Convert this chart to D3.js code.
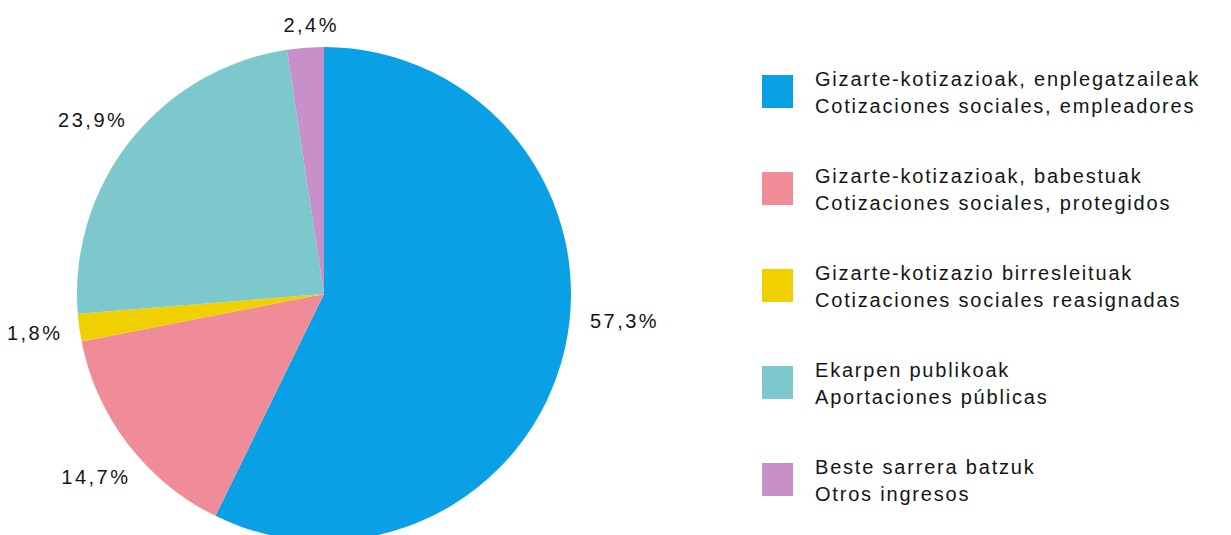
<!DOCTYPE html>
<html><head><meta charset="utf-8">
<script src="https://cdn.jsdelivr.net/npm/d3@7"></script>
<style>
html,body{margin:0;padding:0;background:#fff;}
svg{display:block;}
</style></head>
<body>
<svg id="chart" width="1231" height="535"></svg>
<script>
// ---- data ----
const categoriesEu = ["Gizarte-kotizazioak, enplegatzaileak","Gizarte-kotizazioak, babestuak","Gizarte-kotizazio birresleituak","Ekarpen publikoak","Beste sarrera batzuk"];
const categoriesEs = ["Cotizaciones sociales, empleadores","Cotizaciones sociales, protegidos","Cotizaciones sociales reasignadas","Aportaciones públicas","Otros ingresos"];
const values = [57.3, 14.7, 1.8, 23.9, 2.4];
const valueLabels = ["57,3%","14,7%","1,8%","23,9%","2,4%"];
const colors = ["#0aa0e6","#f08c98","#f0d000","#7cc8cc","#c890c8"];

// ---- layout ----
const svg = d3.select("#chart");
const cx = 324, cy = 294, r = 247;
const labelR = 290;
const labelNudge = [[18,-38],[2,6],[-2,0],[-4,6],[9,20]];
const font = "'Liberation Sans', Arial, sans-serif";

const pie = d3.pie().sort(null).value(d => d)(values);
const arc = d3.arc().innerRadius(0).outerRadius(r);
const labelArc = d3.arc().innerRadius(labelR).outerRadius(labelR);

const g = svg.append("g").attr("transform", `translate(${cx},${cy})`);
g.selectAll("path").data(pie).join("path")
  .attr("d", arc)
  .attr("fill", (d,i) => colors[i]);

g.selectAll("text").data(pie).join("text")
  .attr("transform", (d,i) => {
    const c = labelArc.centroid(d);
    return `translate(${c[0]+labelNudge[i][0]},${c[1]+labelNudge[i][1]})`;
  })
  .attr("text-anchor","middle")
  .attr("dy","0.35em")
  .attr("font-family", font)
  .attr("font-size", 20)
  .attr("letter-spacing", 2.5)
  .attr("fill","#151515")
  .text((d,i) => valueLabels[i]);

// ---- legend ----
const legend = svg.append("g").attr("transform","translate(762,75)");
const item = legend.selectAll("g").data(categoriesEu).join("g")
  .attr("transform", (d,i) => `translate(0,${i*97})`);
item.append("rect").attr("width",31).attr("height",33).attr("fill",(d,i)=>colors[i]);
item.append("text").attr("x",53).attr("y",11)
  .attr("font-family", font)
  .attr("font-size",20).attr("letter-spacing",1.8).attr("fill","#151515")
  .text(d=>d);
item.append("text").attr("x",53).attr("y",38)
  .attr("font-family", font)
  .attr("font-size",20).attr("letter-spacing",1.8).attr("fill","#151515")
  .text((d,i)=>categoriesEs[i]);
</script>
</body></html>
